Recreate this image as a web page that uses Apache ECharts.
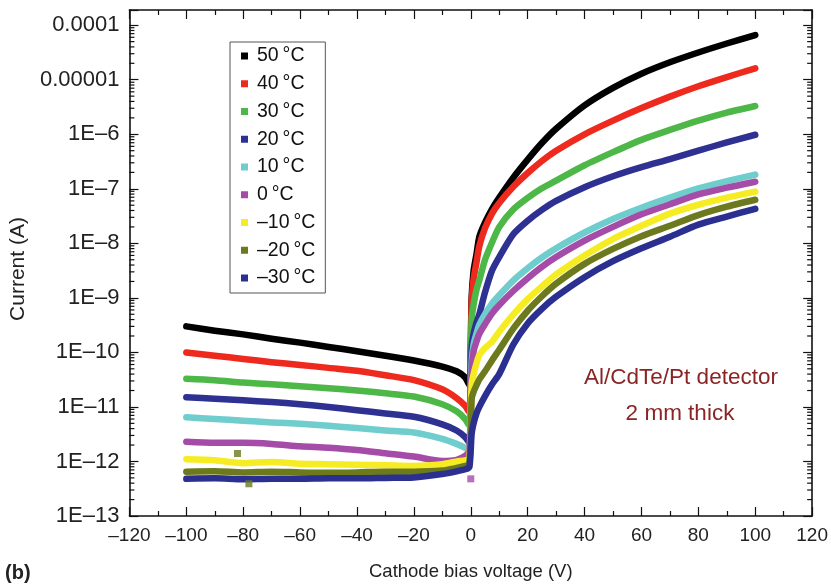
<!DOCTYPE html>
<html>
<head>
<meta charset="utf-8">
<script src="https://cdn.jsdelivr.net/npm/echarts@6/dist/echarts.min.js"></script>
<style>
  html, body { margin: 0; padding: 0; background: #fff; }
  #chart { width: 831px; height: 586px; }
</style>
</head>
<body>
<div id="chart"></div>
<script>
// ---------- data ----------
const V = [-100, -90, -80, -70, -60, -50, -40, -30, -20, -10, -5, -2, -0.5,
           0.3, 1, 2, 3, 5, 7.5, 10, 15, 20, 25, 30, 40, 50, 60, 70, 80, 90, 100];

const TEMPS = ['50\u2009°C', '40\u2009°C', '30\u2009°C', '20\u2009°C', '10\u2009°C',
               '0\u2009°C', '–10\u2009°C', '–20\u2009°C', '–30\u2009°C'];

const I_50 = [3.0e-10, 2.5e-10, 2.14e-10, 1.78e-10, 1.51e-10, 1.26e-10, 1.05e-10, 8.7e-11, 7.1e-11, 5.5e-11, 4.5e-11, 3.5e-11, 2.5e-11,
              1.0e-9, 3.16e-9, 6.3e-9, 1.32e-8, 2.4e-8, 4.3e-8, 6.9e-8, 1.62e-7, 3.43e-7, 6.9e-7, 1.26e-6, 3.39e-6, 7.1e-6, 1.29e-5, 2.09e-5, 3.16e-5, 4.62e-5, 6.6e-5];
const I_40 = [1.0e-10, 8.7e-11, 7.6e-11, 6.6e-11, 5.9e-11, 5.2e-11, 4.6e-11, 3.8e-11, 3.1e-11, 2.1e-11, 1.45e-11, 1.05e-11, 7.9e-12,
              7.9e-10, 2.24e-9, 4.47e-9, 8.9e-9, 1.9e-8, 3.55e-8, 5.5e-8, 1.1e-7, 1.95e-7, 3.24e-7, 5.0e-7, 1.0e-6, 1.78e-6, 3.02e-6, 4.9e-6, 7.6e-6, 1.12e-5, 1.62e-5];
const I_30 = [3.3e-11, 3.1e-11, 2.8e-11, 2.6e-11, 2.4e-11, 2.2e-11, 2.0e-11, 1.78e-11, 1.55e-11, 1.12e-11, 8.3e-12, 6.0e-12, 4.5e-12,
              4.0e-10, 7.6e-10, 1.41e-9, 2.1e-9, 5.0e-9, 1.05e-8, 2.0e-8, 4.2e-8, 6.8e-8, 1.02e-7, 1.41e-7, 2.7e-7, 4.7e-7, 7.9e-7, 1.2e-6, 1.78e-6, 2.5e-6, 3.3e-6];
const I_20 = [1.51e-11, 1.41e-11, 1.32e-11, 1.23e-11, 1.12e-11, 1.0e-11, 8.7e-12, 7.6e-12, 6.6e-12, 4.8e-12, 3.7e-12, 2.8e-12, 2.2e-12,
              1.26e-10, 2.2e-10, 3.5e-10, 5.0e-10, 1.26e-9, 3.2e-9, 5.6e-9, 1.48e-8, 2.6e-8, 4.1e-8, 6.0e-8, 1.07e-7, 1.7e-7, 2.5e-7, 3.5e-7, 5.0e-7, 7.1e-7, 9.8e-7];
const I_10 = [6.5e-12, 6.0e-12, 5.6e-12, 5.2e-12, 4.9e-12, 4.5e-12, 4.1e-12, 3.7e-12, 3.4e-12, 2.6e-12, 2.1e-12, 1.78e-12, 1.58e-12,
              6.3e-11, 1.41e-10, 2.2e-10, 3.2e-10, 5.0e-10, 7.9e-10, 1.12e-9, 2.1e-9, 3.5e-9, 5.5e-9, 8.1e-9, 1.58e-8, 2.8e-8, 4.5e-8, 6.9e-8, 1.02e-7, 1.38e-7, 1.82e-7];
const I_0 =  [2.3e-12, 2.2e-12, 2.2e-12, 2.1e-12, 1.9e-12, 1.78e-12, 1.62e-12, 1.41e-12, 1.23e-12, 1.02e-12, 1.07e-12, 1.26e-12, 1.58e-12,
              4.0e-11, 1.05e-10, 1.58e-10, 2.2e-10, 3.3e-10, 5.2e-10, 7.4e-10, 1.35e-9, 2.3e-9, 3.7e-9, 5.6e-9, 1.12e-8, 2.0e-8, 3.4e-8, 5.2e-8, 7.9e-8, 1.05e-7, 1.35e-7];
const I_M10 = [1.1e-12, 1.05e-12, 9.3e-13, 9.8e-13, 9.1e-13, 8.9e-13, 8.7e-13, 8.5e-13, 8.3e-13, 8.9e-13, 1.0e-12, 1.05e-12, 1.12e-12,
               2.5e-11, 4.0e-11, 6.3e-11, 8.9e-11, 1.2e-10, 1.58e-10, 2.4e-10, 5.0e-10, 9.5e-10, 1.62e-9, 2.7e-9, 6.0e-9, 1.2e-8, 2.1e-8, 3.5e-8, 5.1e-8, 6.9e-8, 8.9e-8];
const I_M20 = [6.5e-13, 6.6e-13, 6.3e-13, 6.5e-13, 6.3e-13, 6.2e-13, 6.3e-13, 6.5e-13, 6.5e-13, 6.8e-13, 7.6e-13, 8.3e-13, 8.9e-13,
               1.41e-11, 1.9e-11, 2.5e-11, 3.2e-11, 4.5e-11, 7.2e-11, 1.12e-10, 2.75e-10, 5.8e-10, 1.07e-9, 1.82e-9, 4.2e-9, 7.9e-9, 1.35e-8, 2.1e-8, 3.3e-8, 4.7e-8, 6.3e-8];
const I_M30 = [4.8e-13, 4.9e-13, 4.7e-13, 4.8e-13, 4.8e-13, 4.9e-13, 4.9e-13, 5.0e-13, 5.1e-13, 5.9e-13, 6.6e-13, 7.2e-13, 7.9e-13,
               3.2e-12, 5.0e-12, 7.6e-12, 1.0e-11, 1.58e-11, 2.6e-11, 4.0e-11, 1.41e-10, 3.4e-10, 6.3e-10, 1.05e-9, 2.4e-9, 4.7e-9, 8.1e-9, 1.32e-8, 2.2e-8, 3.1e-8, 4.3e-8];

// stray points seen in the reference
const STRAY_V = [-82, -78, 0];
const STRAY_I = [1.4e-12, 3.9e-13, 4.8e-13];
const STRAY_SERIES = [7, 7, 5];

const X_TICKS = [-120, -100, -80, -60, -40, -20, 0, 20, 40, 60, 80, 100, 120];
const Y_TICK_LABELS = ['1E–13', '1E–12', '1E–11', '1E–10', '1E–9', '1E–8', '1E–7', '1E–6', '0.00001', '0.0001'];

// ---------- styling ----------
const COLORS = ['#000000', '#ee2a1f', '#4db848', '#2e3192', '#6fcdcd', '#a54ca8', '#f6ec23', '#6c7a1d', '#2b3090'];
const SERIES_DATA = [I_50, I_40, I_30, I_20, I_10, I_0, I_M10, I_M20, I_M30];
const FONT = "'Liberation Sans', Arial, Helvetica, sans-serif";
const Y_MIN = 1e-13, Y_MAX = 1.9e-4;

const series = SERIES_DATA.map((arr, k) => ({
  name: TEMPS[k],
  type: 'line',
  data: V.map((v, i) => [v, arr[i]]),
  showSymbol: false,
  symbol: 'none',
  smooth: 0.25,
  color: COLORS[k],
  lineStyle: { width: 6.5, color: COLORS[k], cap: 'round', join: 'round' },
  itemStyle: { color: COLORS[k] },
  z: 2,
  animation: false
}));

series.push({
  type: 'scatter',
  name: 'stray',
  data: STRAY_V.map((v, i) => ({ value: [v, STRAY_I[i]], itemStyle: { color: COLORS[STRAY_SERIES[i]] } })),
  symbol: 'rect',
  symbolSize: 7,
  z: 3,
  animation: false
});

// minor ticks for the log axes (2..9 in every decade)
const minorTicks = [];
for (let e = -13; e <= -5; e++) {
  for (let m = 2; m <= 9; m++) minorTicks.push([0, m * Math.pow(10, e)]);
}
series.push({
  type: 'custom',
  name: 'minorTicks',
  silent: true,
  animation: false,
  clip: false,
  z: 5,
  data: minorTicks,
  renderItem: function (params, api) {
    const v = api.value(1);
    const pL = api.coord([-120, v]);
    const pR = api.coord([120, v]);
    const st = { stroke: '#111', lineWidth: 1.2 };
    return {
      type: 'group',
      children: [
        { type: 'line', shape: { x1: pL[0], y1: pL[1], x2: pL[0] + 5, y2: pL[1] }, style: st },
        { type: 'line', shape: { x1: pR[0], y1: pR[1], x2: pR[0] - 5, y2: pR[1] }, style: st }
      ]
    };
  }
});

function yLabel(val) {
  const l = Math.log10(val);
  const e = Math.round(l);
  if (Math.abs(l - e) > 1e-6) return '';
  const idx = e + 13;
  return Y_TICK_LABELS[idx] || '';
}
function xLabel(val) {
  if (X_TICKS.indexOf(val) < 0) return '';
  return val < 0 ? '–' + (-val) : String(val);
}

const axisLine = { show: true, onZero: false, lineStyle: { color: '#111', width: 1.6 } };
const tickStyle = { color: '#111', width: 1.2 };

const option = {
  backgroundColor: '#fff',
  animation: false,
  grid: { left: 128, right: 18, top: 10, bottom: 69, containLabel: false },
  legend: {
    data: TEMPS,
    orient: 'vertical',
    left: 230,
    top: 42,
    icon: 'rect',
    itemWidth: 7,
    itemHeight: 7,
    itemGap: 7.75,
    padding: [4, 10, 5, 11],
    borderColor: '#555',
    borderWidth: 1,
    backgroundColor: '#fff',
    textStyle: { fontFamily: FONT, fontSize: 19.5, color: '#111', lineHeight: 20, padding: [0, 0, 0, 4] },
    selectedMode: false
  },
  xAxis: [{
    type: 'value',
    min: -120, max: 120, interval: 20,
    position: 'bottom',
    name: 'Cathode bias voltage (V)',
    nameLocation: 'middle',
    nameGap: 46,
    nameTextStyle: { fontFamily: FONT, fontSize: 18.5, color: '#222' },
    axisLine: axisLine,
    axisTick: { show: true, inside: true, length: 9, lineStyle: tickStyle },
    minorTick: { show: true, splitNumber: 2, length: 5, lineStyle: tickStyle },
    axisLabel: { fontFamily: FONT, fontSize: 19, color: '#222', margin: 10, formatter: xLabel, showMinLabel: true, showMaxLabel: true },
    splitLine: { show: false }
  }, {
    type: 'value',
    min: -120, max: 120, interval: 20,
    position: 'top',
    axisLine: axisLine,
    axisTick: { show: true, inside: true, length: 9, lineStyle: tickStyle },
    minorTick: { show: true, splitNumber: 2, length: 5, lineStyle: tickStyle },
    axisLabel: { show: false },
    splitLine: { show: false }
  }],
  yAxis: [{
    type: 'log',
    logBase: 10,
    min: Y_MIN, max: Y_MAX,
    interval: 1,
    position: 'left',
    name: 'Current (A)',
    nameLocation: 'middle',
    nameRotate: 90,
    nameGap: 97,
    nameTextStyle: { fontFamily: FONT, fontSize: 21, color: '#222', padding: [0, 12, 0, 0] },
    axisLine: axisLine,
    axisTick: { show: true, inside: true, length: 9, lineStyle: tickStyle },
    axisLabel: { fontFamily: FONT, fontSize: 22, color: '#222', margin: 10, formatter: yLabel, showMaxLabel: true, showMinLabel: true },
    splitLine: { show: false }
  }, {
    type: 'log',
    logBase: 10,
    min: Y_MIN, max: Y_MAX,
    interval: 1,
    position: 'right',
    axisLine: axisLine,
    axisTick: { show: true, inside: true, length: 9, lineStyle: tickStyle },
    axisLabel: { show: false },
    splitLine: { show: false }
  }],
  graphic: [
    { type: 'text', left: 5, top: 563, style: { text: '(b)', font: "bold 20px " + FONT, fill: '#222' } },
    { type: 'text', x: 681, y: 378, style: { text: 'Al/CdTe/Pt detector', font: "22.5px " + FONT, fill: '#8b2424', textAlign: 'center', textVerticalAlign: 'middle' } },
    { type: 'text', x: 680, y: 414, style: { text: '2 mm thick', font: "22.5px " + FONT, fill: '#8b2424', textAlign: 'center', textVerticalAlign: 'middle' } }
  ],
  series: series
};

const chart = echarts.init(document.getElementById('chart'), null, { renderer: 'canvas' });
chart.setOption(option);
</script>
</body>
</html>
